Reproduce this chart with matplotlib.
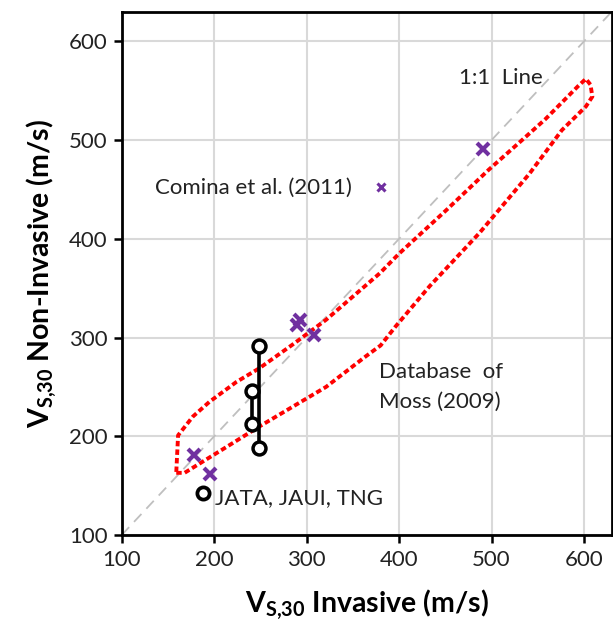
import matplotlib
matplotlib.use("Agg")
import matplotlib.pyplot as plt

plt.rcParams['font.family'] = ['Lato', 'DejaVu Sans']
plt.rcParams['mathtext.fontset'] = 'custom'
plt.rcParams['mathtext.rm'] = 'Lato'
plt.rcParams['mathtext.bf'] = 'Lato:bold'
plt.rcParams['mathtext.it'] = 'Lato:italic'

# Comina et al. (2011) points
comina_x = [178, 196, 293, 290, 308, 491]
comina_y = [181, 162, 318, 313, 303, 491]

# JATA, JAUI, TNG sites (pairs joined by lines)
site_a_x = [249, 249]
site_a_y = [291, 188]
site_b_x = [241, 241]
site_b_y = [246, 212]

# Moss (2009) database envelope
moss_x = [159, 168, 213, 249, 285, 321, 364, 380, 396, 433, 487, 541, 576, 602,
          609, 607, 602, 594, 558, 533, 497, 451, 400, 379, 321, 285, 249, 224,
          195, 177, 161, 159]
moss_y = [163, 163, 189, 210, 230, 250, 281, 292, 311, 352, 406, 466, 510, 534,
          544, 556, 562, 555, 521, 500, 470, 429, 385, 365, 318, 293, 269, 255,
          235, 220, 201, 163]

ticks = [100, 200, 300, 400, 500, 600]
lim = (100, 630)

fig = plt.figure(figsize=(6.13, 6.28), dpi=100)
ax = fig.add_axes([0.1985, 0.148, 0.7995, 0.8334])
ax.set_xlim(lim)
ax.set_ylim(lim)
ax.set_xticks(ticks)
ax.set_yticks(ticks)
ax.grid(True, color='#d9d9d9', linewidth=1.5, zorder=0)
ax.set_axisbelow(True)

ax.plot(lim, lim, color='#bfbfbf', linewidth=1.3, linestyle=(0, (6, 4)), zorder=1)

ax.plot(moss_x, moss_y, color='#ff0000', linewidth=2.8, linestyle=(0, (1.4, 0.8)),
        zorder=2)

ax.plot(comina_x, comina_y, linestyle='none', marker='x', color='#7030a0',
        markersize=8, markeredgewidth=3, zorder=4)

for sx, sy in [(site_a_x, site_a_y), (site_b_x, site_b_y)]:
    ax.plot(sx, sy, color='black', linewidth=2.6, marker='o', markersize=9.3,
            markerfacecolor='white', markeredgecolor='black', markeredgewidth=2.5,
            zorder=5)

# legend-like markers
ax.plot([380], [452], linestyle='none', marker='x', color='#7030a0',
        markersize=6, markeredgewidth=2.2, zorder=4)
ax.plot([188], [142.5], linestyle='none', marker='o', markersize=8.8,
        markerfacecolor='white', markeredgecolor='black', markeredgewidth=2.7, zorder=5)

tc = '#222222'
fs = 16
ax.text(465, 563, '1:1  Line', fontsize=fs, color=tc, ha='left', va='center')
ax.text(136, 452, 'Comina et al. (2011)', fontsize=fs, color=tc, ha='left', va='center')
ax.text(378.5, 265.5, 'Database  of', fontsize=fs, color=tc, ha='left', va='center')
ax.text(378.5, 235, 'Moss (2009)', fontsize=fs, color=tc, ha='left', va='center')
ax.text(200.5, 137, 'JATA, JAUI, TNG', fontsize=fs, color=tc, ha='left', va='center')

for s in ax.spines.values():
    s.set_linewidth(2)
    s.set_color('black')
ax.tick_params(axis='both', direction='out', length=6, width=1.8, labelsize=16,
               colors='black', pad=5)
ax.tick_params(axis='y', pad=4)
for lab in ax.get_xticklabels() + ax.get_yticklabels():
    lab.set_color('#222222')

ax.set_xlabel(r'$\mathbf{V}_{\mathbf{S{,}30}}$ Invasive (m/s)', fontsize=20.5,
              fontweight='bold', labelpad=13)
ax.set_ylabel(r'$\mathbf{V}_{\mathbf{S{,}30}}$ Non-Invasive (m/s)', fontsize=20.5,
              fontweight='bold', labelpad=7)

fig.savefig('out.png', dpi=100)
